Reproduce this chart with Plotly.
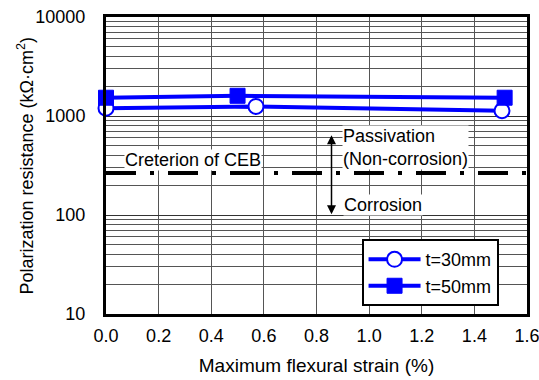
import math
import plotly.graph_objects as go

# Data
strain_30 = [0.0, 0.57, 1.505]
res_30 = [1200, 1250, 1130]
strain_50 = [0.0, 0.5, 1.515]
res_50 = [1530, 1600, 1530]
ceb_criterion = 265
x_ticks = [0.0, 0.2, 0.4, 0.6, 0.8, 1.0, 1.2, 1.4, 1.6]
y_ticks = [10, 100, 1000, 10000]

BLUE = "#0000FF"
FONT = "Liberation Sans, Arial, sans-serif"
FS = 18

fig = go.Figure()
fig.add_trace(go.Scatter(
    x=strain_30, y=res_30, mode="lines+markers", name="t=30mm",
    line=dict(color=BLUE, width=4),
    marker=dict(symbol="circle", size=15, color="white", line=dict(color=BLUE, width=2)),
    cliponaxis=False,
))
fig.add_trace(go.Scatter(
    x=strain_50, y=res_50, mode="lines+markers", name="t=50mm",
    line=dict(color=BLUE, width=4),
    marker=dict(symbol="square", size=15, color=BLUE, line=dict(color=BLUE, width=1)),
    cliponaxis=False,
))

# CEB criterion line
fig.add_shape(type="line", xref="paper", yref="y", x0=0, x1=1,
              y0=ceb_criterion, y1=ceb_criterion,
              line=dict(color="black", width=4, dash="30px,14px,4px,14px"), layer="above")

fig.add_annotation(x=0.33, y=math.log10(360), xref="x", yref="y", text="Creterion of CEB",
                   showarrow=False, bgcolor="white", font=dict(size=FS, color="black", family=FONT),
                   borderpad=0)
fig.add_annotation(x=0.897, y=math.log10(480), xref="x", yref="y",
                   text="Passivation<br>(Non-corrosion)", align="left", xanchor="left",
                   showarrow=False, bgcolor="white", font=dict(size=FS, color="black", family=FONT),
                   borderpad=0)
fig.add_annotation(x=0.899, y=math.log10(126), xref="x", yref="y", text="Corrosion",
                   xanchor="left", showarrow=False, bgcolor="white",
                   font=dict(size=FS, color="black", family=FONT), borderpad=0)
# double arrow
fig.add_annotation(x=0.857, y=math.log10(102), ax=0.857, ay=math.log10(660),
                   xref="x", yref="y", axref="x", ayref="y", text="",
                   showarrow=True, arrowhead=2, arrowside="end+start", arrowsize=1.2,
                   arrowwidth=1.5, arrowcolor="black")
# y axis title
fig.add_annotation(x=-0.19, y=0.5, xref="paper", yref="paper", xanchor="center", yanchor="middle",
                   text="Polarization resistance (kΩ·cm<sup>2</sup>)", textangle=-90,
                   showarrow=False, font=dict(size=18, color="black", family=FONT))

fig.update_layout(
    width=539, height=380,
    margin=dict(l=106, r=12, t=17, b=66),
    paper_bgcolor="white", plot_bgcolor="white",
    font=dict(family=FONT, size=FS, color="black"),
    showlegend=True,
    legend=dict(x=0.607, y=0.252, xanchor="left", yanchor="top",
                bgcolor="white", bordercolor="black", borderwidth=2,
                font=dict(size=FS), tracegroupgap=2, itemwidth=52),
)
fig.update_xaxes(
    range=[0, 1.6], tickvals=x_ticks, ticktext=[f"{v:.1f}" for v in x_ticks],
    showgrid=True, gridcolor="#555555", gridwidth=1,
    showline=True, linecolor="black", linewidth=3, mirror=True,
    zeroline=False, ticks="", automargin=False, ticklabeloverflow="allow",
    ticklabelstandoff=3,
    title=dict(text="Maximum flexural strain (%)", font=dict(size=19), standoff=15),
)
fig.update_yaxes(
    type="log", range=[1, 4], tickvals=y_ticks, ticktext=[str(v) for v in y_ticks],
    showgrid=True, gridcolor="#333333", gridwidth=1,
    minor=dict(showgrid=True, gridcolor="#555555", gridwidth=1, dtick="D1"),
    showline=True, linecolor="black", linewidth=3, mirror=True,
    zeroline=False, ticks="outside", ticklen=14, tickcolor="rgba(0,0,0,0)",
    automargin=False, ticklabeloverflow="allow",
)

fig.write_html("out.html", config={"displayModeBar": False},
               post_script="document.body.style.margin='0';document.body.style.padding='0';")
